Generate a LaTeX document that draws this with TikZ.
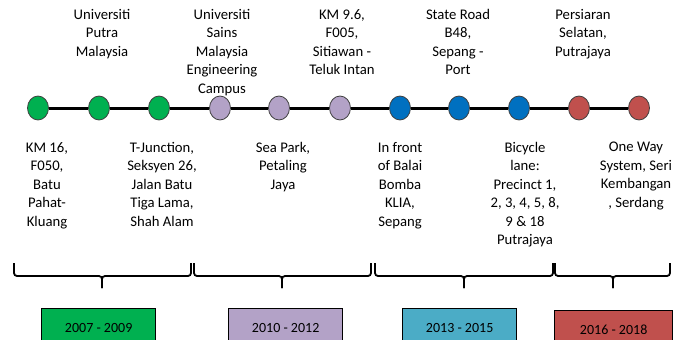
\documentclass[tikz,border=0pt]{standalone}
\usepackage{fontspec}
\setmainfont{Carlito}
\usetikzlibrary{positioning,shapes.geometric}
\definecolor{tlgreen}{HTML}{00B050}
\definecolor{tlpurple}{HTML}{B3A2C7}
\definecolor{tlblue}{HTML}{0070C0}
\definecolor{tlred}{HTML}{C0504D}
\definecolor{tlteal}{HTML}{4BACC6}
\tikzset{
    site/.style={
    font=\fontsize{14.7}{18.5}\selectfont,align=center,anchor=north,inner sep=0pt
    },
    station/.style={
    ellipse,draw=black!75,line width=0.8pt,minimum width=21pt,minimum height=24pt,inner sep=0pt
    },
    spine/.style={
    line width=3pt,draw=black
    },
    bracket/.style={
    line width=1.8pt,rounded corners=3pt
    },
    period/.style={
    rectangle,draw=black,line width=1.3pt,minimum width=114pt,minimum height=38pt,anchor=north west,
    font=\fontsize{14}{16}\selectfont
    },
}
\begin{document}
\begin{tikzpicture}[x=1pt,y=-1pt]
  \useasboundingbox (0,0) rectangle (683,340);
  % places above the line
  \node[site] (u1) at (102,9) {Universiti\\Putra\\Malaysia};
  \node[site] (u2) at (222,9) {Universiti\\Sains\\Malaysia\\Engineering\\Campus};
  \node[site] (u3) at (342,9) {KM 9.6,\\F005,\\Sitiawan -\\Teluk Intan};
  \node[site] (u4) at (458,9) {State Road\\B48,\\Sepang -\\Port};
  \node[site] (u5) at (583,9) {Persiaran\\Selatan,\\Putrajaya};
  % places below the line
  \node[site] (d1) at (47,142) {KM 16,\\F050,\\Batu\\Pahat-\\Kluang};
  \node[site] (d2) at (162,142) {T-Junction,\\Seksyen 26,\\Jalan Batu\\Tiga Lama,\\Shah Alam};
  \node[site] (d3) at (283,142) {Sea Park,\\Petaling\\Jaya};
  \node[site] (d4) at (400,142) {In front\\of Balai\\Bomba\\KLIA,\\Sepang};
  \node[site] (d5) at (525,142) {Bicycle\\lane:\\Precinct 1,\\2, 3, 4, 5, 8,\\9 \& 18\\Putrajaya};
  \node[site] (d6) at (636,142) {One Way\\System, Seri\\Kembangan\\, Serdang};
  % timeline
  \foreach \x/\c [count=\i] in {38/tlgreen,99/tlgreen,159/tlgreen,220/tlpurple,279/tlpurple,340/tlpurple,
                               400/tlblue,459/tlblue,519/tlblue,579/tlred,639/tlred}
     \node[station,fill=\c] (c\i) at (\x,108) {};
  \foreach \i [count=\j from 2] in {1,...,10}
     \draw[spine] (c\i) -- (c\j);
  % brackets
  \foreach \l/\m/\r [count=\i] in {14/102/191,194/282/371,375/464/553,555/613/670}{
     \coordinate (b\i) at (\m,288);
     \draw[bracket] (\l,263) |- (\m,276) -- (b\i);
     \draw[bracket] (b\i) -- (\m,276) -| (\r,263);
  }
  % periods
  \node[period,fill=tlgreen] (p1) at (41,308) {2007 - 2009};
  \node[period,fill=tlpurple] (p2) at (228,308) {2010 - 2012};
  \node[period,fill=tlteal] (p3) at (402,308) {2013 - 2015};
  \node[period,fill=tlred,minimum width=118pt] (p4) at (554,310) {2016 - 2018};
\end{tikzpicture}
\end{document}
